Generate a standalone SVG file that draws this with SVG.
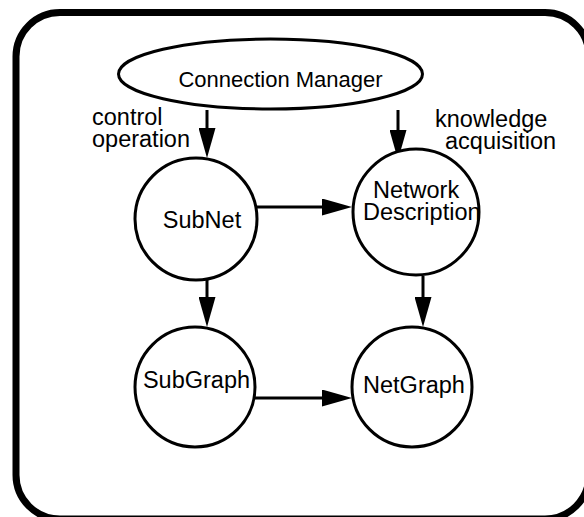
<svg xmlns="http://www.w3.org/2000/svg" width="584" height="517" viewBox="0 0 584 517">
  <style>
    .frame { fill: none; stroke: #000; stroke-width: 7; }
    .node { fill: #fff; stroke: #000; stroke-width: 3; }
    .edge { fill: none; stroke: #000; stroke-width: 3; marker-end: url(#head); }
    text { font-family: "Liberation Sans", Arial, Helvetica, sans-serif; font-size: 23.5px; fill: #000; }
    .mid { text-anchor: middle; }
  </style>
  <defs>
    <marker id="head" markerUnits="userSpaceOnUse" viewBox="0 0 30 17" refX="20" refY="8.5" markerWidth="30" markerHeight="17" orient="auto">
      <path d="M0,0 L30,8.5 L0,17 Z" fill="#000"/>
    </marker>
  </defs>
  <rect fill="#fff" x="0" y="0" width="584" height="517"/>

  <!-- outer frame -->
  <rect class="frame" x="16" y="12.5" width="573" height="506.5" rx="44" ry="44"/>

  <!-- connectors -->
  <g id="connectors">
    <line class="edge" x1="207" y1="110" x2="207" y2="148"/>
    <line class="edge" x1="398" y1="110" x2="398" y2="150"/>
    <line class="edge" x1="257" y1="207" x2="342" y2="207"/>
    <line class="edge" x1="207" y1="280" x2="207" y2="317"/>
    <line class="edge" x1="423" y1="276" x2="423" y2="317"/>
    <line class="edge" x1="255" y1="398" x2="342" y2="398"/>
  </g>

  <!-- edge labels -->
  <g id="labels">
    <text x="92" y="125">control<tspan x="92" y="147">operation</tspan></text>
    <text x="435" y="127">knowledge<tspan x="445" y="149">acquisition</tspan></text>
  </g>

  <g id="connection-manager">
    <ellipse class="node" cx="270.5" cy="74" rx="152" ry="35"/>
    <text class="mid" x="280.5" y="87" style="font-size:22px">Connection Manager</text>
  </g>

  <g id="subnet">
    <circle class="node" cx="196" cy="219" r="61"/>
    <text class="mid" x="202" y="228">SubNet</text>
  </g>

  <g id="network-description">
    <circle class="node" cx="416" cy="212" r="63"/>
    <text x="373" y="198">Network<tspan x="363" y="220">Description</tspan></text>
  </g>

  <g id="subgraph">
    <circle class="node" cx="195" cy="387" r="60"/>
    <text class="mid" x="196.5" y="388">SubGraph</text>
  </g>

  <g id="netgraph">
    <circle class="node" cx="412" cy="387" r="60"/>
    <text class="mid" x="414" y="393">NetGraph</text>
  </g>
</svg>
